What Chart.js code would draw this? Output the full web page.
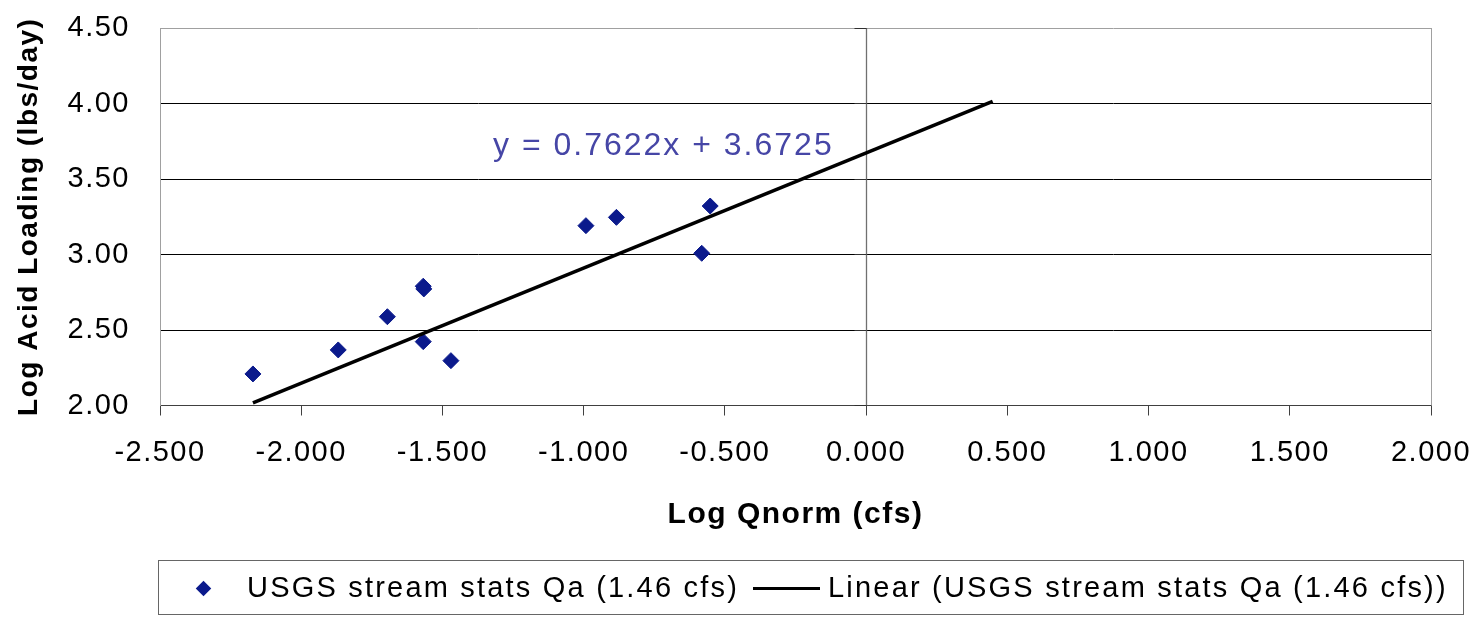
<!DOCTYPE html>
<html>
<head>
<meta charset="utf-8">
<script src="https://cdn.jsdelivr.net/npm/chart.js@4.4.1/dist/chart.umd.min.js"></script>
<style>
  html, body { margin: 0; padding: 0; background: #fff; }
  body { width: 1480px; height: 618px; position: relative; overflow: hidden; font-family: "Liberation Sans", Arial, sans-serif; }
  #c { position: absolute; left: 0; top: 0; }
  #legend { position: absolute; left: 158px; top: 560px; width: 1306px; height: 55px; border: 1px solid #666; box-sizing: border-box; }
  .lg-text { position: absolute; font-size: 29px; line-height: 29px; letter-spacing: 2.2px; color: #000; white-space: nowrap; top: 12px; }
  .lg-diamond { position: absolute; width: 11px; height: 11px; background: #0b1a8c; transform: rotate(45deg); left: 39px; top: 22px; }
  .lg-line { position: absolute; left: 594px; width: 67px; top: 26px; height: 0; border-top: 3px solid #000; }
</style>
</head>
<body>
<canvas id="c" width="1480" height="618"></canvas>
<div id="legend">
  <div class="lg-diamond"></div>
  <span class="lg-text" style="left:88px">USGS stream stats Qa (1.46 cfs)</span>
  <div class="lg-line"></div>
  <span class="lg-text" style="left:669px">Linear (USGS stream stats Qa (1.46 cfs))</span>
</div>
<script>
// ---- data ----
const logQnorm = [-2.171, -1.869, -1.695, -1.568, -1.566, -1.568, -1.470, -0.992, -0.884, -0.552, -0.582];
const logAcidLoading = [2.209, 2.368, 2.588, 2.790, 2.772, 2.423, 2.297, 3.191, 3.246, 3.321, 3.008];
const seriesName = 'USGS stream stats Qa (1.46 cfs)';
const trendSlope = 0.7622;
const trendIntercept = 3.6725;
const trendForward = 1.0;
const xTicks = [-2.5, -2.0, -1.5, -1.0, -0.5, 0.0, 0.5, 1.0, 1.5, 2.0];
const yTicks = [2.0, 2.5, 3.0, 3.5, 4.0, 4.5];
const equationText = 'y = 0.7622x + 3.6725';
const equationAnchor = [-1.321, 3.659];
const xTitle = 'Log Qnorm (cfs)';
const yTitle = 'Log Acid Loading (lbs/day)';

// trendline endpoints from the regression equation
const xMin = Math.min(...logQnorm);
const xMax = Math.max(...logQnorm) + trendForward;
const trendData = [xMin, xMax].map(x => ({ x, y: trendSlope * x + trendIntercept }));
const pointData = logQnorm.map((x, i) => ({ x, y: logAcidLoading[i] }));

Chart.defaults.font.family = '"Liberation Sans", Arial, sans-serif';
Chart.defaults.color = '#000';

const align = p => Math.round(p - 0.5) + 0.5;

const stylePlugin = {
  id: 'excelStyle',
  beforeDraw(chart) {
    chart.ctx.letterSpacing = '1.5px';
  },
  beforeDatasetsDraw(chart) {
    const { ctx, chartArea: a, scales: { x, y } } = chart;
    ctx.save();
    // right border of plot area
    ctx.strokeStyle = '#a0a0a0';
    ctx.lineWidth = 1;
    ctx.beginPath();
    ctx.moveTo(align(a.right), a.top);
    ctx.lineTo(align(a.right), a.bottom);
    ctx.stroke();
    // vertical value axis crossing at x = 0
    const x0 = align(x.getPixelForValue(0));
    ctx.strokeStyle = '#707070';
    ctx.lineWidth = 1.3;
    ctx.beginPath();
    ctx.moveTo(x0, a.top);
    ctx.lineTo(x0, a.bottom);
    ctx.stroke();
    ctx.strokeStyle = '#303030';
    ctx.lineWidth = 1;
    yTicks.forEach(v => {
      const py = align(y.getPixelForValue(v));
      ctx.beginPath();
      ctx.moveTo(x0 - 12, py);
      ctx.lineTo(x0, py);
      ctx.stroke();
    });
    ctx.restore();
  },
  afterDraw(chart) {
    const { ctx, scales: { x, y } } = chart;
    ctx.save();
    ctx.letterSpacing = '2px';
    ctx.font = '32px "Liberation Sans", Arial, sans-serif';
    ctx.fillStyle = '#4646a6';
    ctx.textAlign = 'left';
    ctx.textBaseline = 'alphabetic';
    ctx.fillText(equationText, x.getPixelForValue(equationAnchor[0]), y.getPixelForValue(equationAnchor[1]));
    ctx.restore();
  }
};

new Chart(document.getElementById('c'), {
  type: 'scatter',
  data: {
    datasets: [
      {
        label: 'Linear (' + seriesName + ')',
        data: trendData,
        showLine: true,
        borderColor: '#000',
        borderWidth: 3.6,
        pointRadius: 0,
        pointHoverRadius: 0,
        tension: 0
      },
      {
        label: seriesName,
        data: pointData,
        pointStyle: 'rectRot',
        pointRadius: 8,
        pointBackgroundColor: '#0b1a8c',
        pointBorderColor: '#0b1a8c',
        pointBorderWidth: 1
      }
    ]
  },
  options: {
    responsive: false,
    animation: false,
    events: [],
    layout: { padding: { top: 28, right: 49, left: 0, bottom: 0 } },
    plugins: { legend: { display: false }, tooltip: { enabled: false } },
    scales: {
      x: {
        type: 'linear',
        min: xTicks[0],
        max: xTicks[xTicks.length - 1],
        afterBuildTicks: s => { s.ticks = xTicks.map(v => ({ value: v })); },
        afterFit: s => { s.height = 212.5; s.paddingLeft = 0; s.paddingRight = 0; },
        ticks: {
          callback: v => Number(v).toFixed(3),
          font: { size: 29 },
          color: '#000',
          padding: 20,
          maxRotation: 0,
          autoSkip: false
        },
        grid: { drawOnChartArea: false, drawTicks: true, tickLength: 10, color: '#404040', lineWidth: 1 },
        border: { color: '#404040', width: 1 },
        title: { display: true, text: xTitle, font: { size: 30, weight: 'bold' }, color: '#000', padding: { top: 0, bottom: 85 } }
      },
      y: {
        type: 'linear',
        min: yTicks[0],
        max: yTicks[yTicks.length - 1],
        afterBuildTicks: s => { s.ticks = yTicks.map(v => ({ value: v })); },
        afterFit: s => { s.width = 160; s.paddingTop = 0; s.paddingBottom = 0; },
        ticks: {
          callback: v => Number(v).toFixed(2),
          font: { size: 29 },
          color: '#000',
          padding: 30
        },
        grid: {
          drawTicks: false,
          color: c => (c.tick && c.tick.value === 4.5) ? '#a0a0a0' : (c.tick && c.tick.value === 2.0 ? '#404040' : '#000'),
          lineWidth: 1
        },
        border: { color: '#a0a0a0', width: 1 },
        title: { display: true, text: yTitle, font: { size: 28, weight: 'bold' }, color: '#000', padding: { top: 12, bottom: 0 } }
      }
    }
  },
  plugins: [stylePlugin]
});
</script>
</body>
</html>
